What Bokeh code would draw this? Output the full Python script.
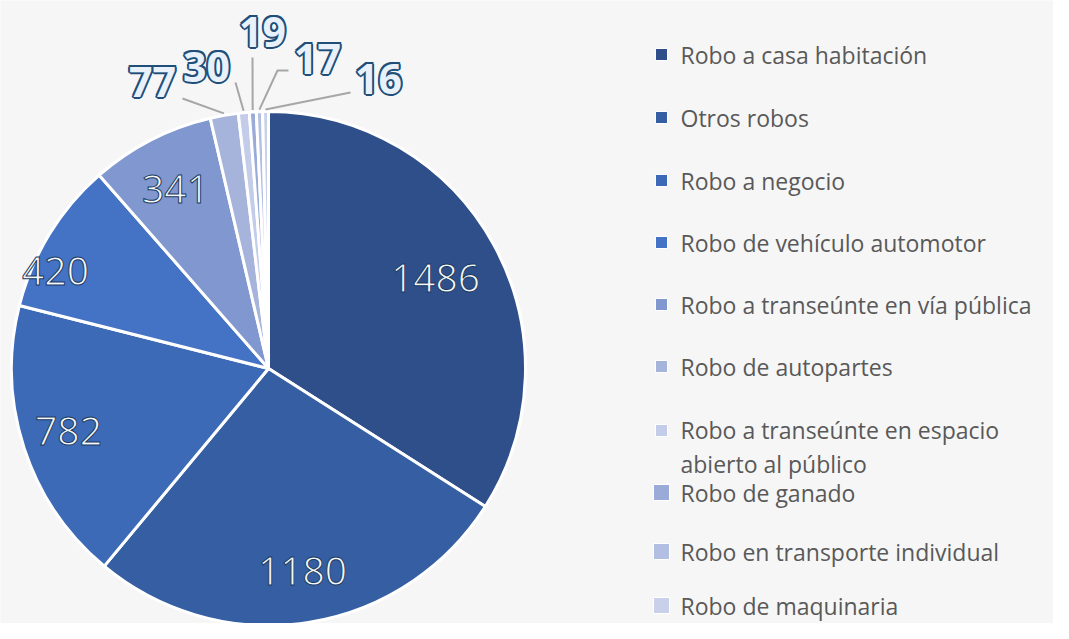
import math
from bokeh.plotting import figure
from bokeh.models import Range1d
from bokeh.core.properties import value
from bokeh.embed import file_html
from bokeh.resources import INLINE

# ---- data ----
categories = [
    "Robo a casa habitación",
    "Otros robos",
    "Robo a negocio",
    "Robo de vehículo automotor",
    "Robo a transeúnte en vía pública",
    "Robo de autopartes",
    "Robo a transeúnte en espacio\nabierto al público",
    "Robo de ganado",
    "Robo en transporte individual",
    "Robo de maquinaria",
]
counts = [1486, 1180, 782, 420, 341, 77, 30, 19, 17, 16]
colors = ["#2f4f8a", "#355fa2", "#3c6ab7", "#4472c4", "#8097cf",
          "#a6b4dc", "#c3cce8", "#9aabd8", "#b3bfe2", "#c9d1ea"]

# ---- layout ----
W, H = 1053, 623
def X(rx): return rx
def Y(ry): return H - ry

cx, cy, R = X(268), Y(368), 257

p = figure(width=W, height=H, output_backend="svg", toolbar_location=None,
           x_range=Range1d(0, W), y_range=Range1d(0, H), min_border=0)
p.axis.visible = False
p.grid.visible = False
p.outline_line_color = None
p.background_fill_color = "#f6f6f6"
p.border_fill_color = "#f6f6f6"

total = sum(counts)
starts, ends, mids = [], [], []
a = math.pi / 2
for c in counts:
    span = 2 * math.pi * c / total
    starts.append(a)
    ends.append(a - span)
    mids.append(a - span / 2)
    a -= span

p.wedge(x=cx, y=cy, radius=R, start_angle=starts, end_angle=ends, direction="clock",
        fill_color=colors, line_color="white", line_width=3)

# inner labels (positions in reference pixels)
inner_pos = [(435, 277), (302, 570), (68, 430), (55, 270), (175, 188)]
p.text(x=[X(x) for x, _ in inner_pos], y=[Y(y) for _, y in inner_pos],
       text=[str(v) for v in counts[:5]],
       text_font=value("Open Sans"), text_font_size="39px",
       text_color="#f4f8fc", text_outline_color="#1a3a60",
       text_align="center", text_baseline="middle")

# outer labels with leader lines
outer_pos = [(152, 81), (206, 66), (262, 31), (317, 58), (378, 78)]
line_end = [[(182, 98)], [(235, 82)], [(252, 57)], [(277, 70), (288, 70)], [(350, 92)]]
xs, ys = [], []
for i, pts in enumerate(line_end):
    m = mids[5 + i]
    sx, sy = cx + (R + 2) * math.cos(m), cy + (R + 2) * math.sin(m)
    xs.append([sx] + [X(px) for px, _ in pts])
    ys.append([sy] + [Y(py) for _, py in pts])
p.multi_line(xs=xs, ys=ys, line_color="#a6a6a6", line_width=2)

ox = [X(x) for x, _ in outer_pos]
oy = [Y(y) for _, y in outer_pos]
olab = [str(v) for v in counts[5:]]
for dx, dy in [(-2, 0), (2, 0), (0, -2), (0, 2), (-1.5, -1.5), (1.5, 1.5), (-1.5, 1.5), (1.5, -1.5)]:
    p.text(x=ox, y=oy, text=olab, x_offset=dx, y_offset=dy,
           text_font=value("Open Sans"), text_font_size="41px", text_font_style="bold",
           text_color="#1f4e79", text_align="center", text_baseline="middle")
p.text(x=ox, y=oy, text=olab,
       text_font=value("Open Sans"), text_font_size="41px", text_font_style="bold",
       text_color="#e8f0fa", text_align="center", text_baseline="middle")

# legend
leg_y = [54, 117, 180, 242, 304, 366, 430, 492, 551, 605]
line_gap = 33
sq = [12, 12, 12, 12, 12, 12, 12, 16, 16, 16]
p.rect(x=[X(661)] * 10, y=[Y(y) for y in leg_y], width=sq, height=sq,
       fill_color=colors, line_color="white", line_width=1)
text_y = [Y(y) - (c.count("\n")) * line_gap / 2 for y, c in zip(leg_y, categories)]
p.text(x=[X(680)] * 10, y=text_y, text=categories,
       text_font=value("Open Sans"), text_font_size="23px", text_color="#595959",
       text_align="left", text_baseline="middle", text_line_height=1.05)

open("out.html", "w").write(file_html(p, INLINE))
